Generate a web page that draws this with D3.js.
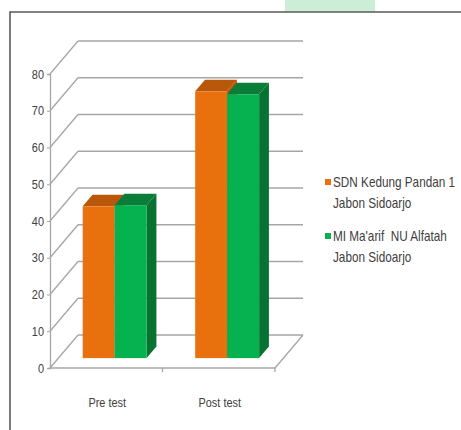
<!DOCTYPE html>
<html lang="en">
<head>
<meta charset="utf-8">
<title>Pre test / Post test</title>
<script src="https://d3js.org/d3.v7.min.js"></script>
<style>
  body { margin: 0; background: #fff; }
  svg { display: block; }
  text {
    font-family: 'Liberation Sans', Arial, sans-serif;
    fill: #404040;
    white-space: pre;
  }
  .tick-label { font-size: 13px; }
  .cat-label { font-size: 13px; }
  .legend text { font-size: 14px; }
  .wall { stroke: #a6a6a6; stroke-width: 1.3; fill: none; }
</style>
</head>
<body>
<svg width="461" height="430"></svg>
<script>
// data
const categories = ['Pre test', 'Post test'];
const seriesNames = ['SDN Kedung Pandan 1|Jabon Sidoarjo', 'MI Ma\'arif  NU Alfatah|Jabon Sidoarjo'];
const sdnValues = [41.3, 72.6];
const miValues = [41.6, 71.8];
const yTicks = [0, 10, 20, 30, 40, 50, 60, 70, 80];

const colors = [
  { front: '#e8710e', top: '#b9570b', side: '#b25409' },
  { front: '#06b150', top: '#0a7d38', side: '#087232' }
];

// the original uses a narrow font; squeeze the glyphs horizontally
const SQUEEZE = 0.84;
function narrowText(sel, px, py, anchor) {
  return sel.append('text')
    .attr('transform', `translate(${px},${py}) scale(${SQUEEZE},1)`)
    .attr('text-anchor', anchor || 'start');
}

const svg = d3.select('svg');

// background bits + frame
svg.append('rect').attr('x', 285).attr('y', 0).attr('width', 90).attr('height', 12).attr('fill', '#cdeed6');
svg.append('path')
  .attr('d', 'M10,430 L10,12 L461,12')
  .attr('fill', 'none').attr('stroke', '#5a5a5a').attr('stroke-width', 1.6);

// 3d projection: depth goes up and to the right
const DX = 28, DY = -33;
const depth = (d) => [DX * d, DY * d];

const x = d3.scaleBand().domain(categories).range([50, 275]);
const xs = d3.scaleBand().domain([0, 1]).range([0, x.bandwidth()]).paddingOuter(0.76);
const y = d3.scaleLinear().domain([0, 80]).range([368, 74]);

const g = svg.append('g');

// back wall gridlines and left wall diagonals
yTicks.forEach((t) => {
  const yy = y(t);
  g.append('line').attr('class', 'wall')
    .attr('x1', x.range()[0] + DX).attr('x2', x.range()[1] + DX)
    .attr('y1', yy + DY).attr('y2', yy + DY);
  g.append('line').attr('class', 'wall')
    .attr('x1', x.range()[0]).attr('y1', yy)
    .attr('x2', x.range()[0] + DX).attr('y2', yy + DY);
});

// floor
g.append('path').attr('class', 'wall')
  .attr('d', `M${x.range()[0]},${y(0)} L${x.range()[1]},${y(0)} L${x.range()[1] + DX},${y(0) + DY}`);

// vertical axis + ticks (labels drawn separately, squeezed)
const yAxis = d3.axisLeft(y).tickValues(yTicks).tickSize(3).tickFormat('');
const ax = g.append('g').attr('transform', `translate(${x.range()[0]},0)`).call(yAxis);
ax.select('.domain').attr('stroke', '#a6a6a6').attr('stroke-width', 1.3);
ax.selectAll('.tick line').attr('stroke', '#a6a6a6');
yTicks.forEach((t) => {
  narrowText(g, x.range()[0] - 6, y(t) + 4.5, 'end')
    .attr('class', 'tick-label')
    .text(t);
});

// category tick marks
x.domain().forEach((c) => {
  const xx = x(c) + x.bandwidth();
  g.append('line').attr('stroke', '#a6a6a6').attr('stroke-width', 1.3)
    .attr('x1', xx).attr('x2', xx).attr('y1', y(0)).attr('y2', y(0) + 4);
});

// category labels
categories.forEach((c) => {
  narrowText(g, x(c) + x.bandwidth() / 2 + 1, 407, 'middle')
    .attr('class', 'cat-label')
    .text(c);
});

// bars
const f0 = 0.3, f1 = 0.65;
const bars = [];
categories.forEach((c, i) => {
  [sdnValues[i], miValues[i]].forEach((v, s) => bars.push({ cat: c, s: s, v: v }));
});

bars.forEach((b) => {
  const x0 = x(b.cat) + xs(b.s);
  const x1 = x0 + xs.bandwidth();
  const [ax0, ay0] = depth(f0);
  const [ax1, ay1] = depth(f1);
  const yb = y(0), yt = y(b.v);
  const col = colors[b.s];
  // side face
  g.append('path').attr('fill', col.side)
    .attr('d', `M${x1 + ax0},${yb + ay0} L${x1 + ax1},${yb + ay1} L${x1 + ax1},${yt + ay1} L${x1 + ax0},${yt + ay0} Z`);
  // top face
  g.append('path').attr('fill', col.top)
    .attr('d', `M${x0 + ax0},${yt + ay0} L${x1 + ax0},${yt + ay0} L${x1 + ax1},${yt + ay1} L${x0 + ax1},${yt + ay1} Z`);
  // front face
  g.append('rect').attr('fill', col.front)
    .attr('x', x0 + ax0).attr('y', yt + ay0)
    .attr('width', x1 - x0).attr('height', yb - yt);
});

// legend
const legend = svg.append('g').attr('class', 'legend');
const legendY = [187, 241];
seriesNames.forEach((name, i) => {
  const lines = name.split('|');
  legend.append('rect')
    .attr('x', 325).attr('y', legendY[i] - 8)
    .attr('width', 6).attr('height', 6)
    .attr('fill', colors[i].front);
  lines.forEach((ln, j) => {
    narrowText(legend, 333, legendY[i] + j * 21).text(ln);
  });
});
</script>
</body>
</html>
